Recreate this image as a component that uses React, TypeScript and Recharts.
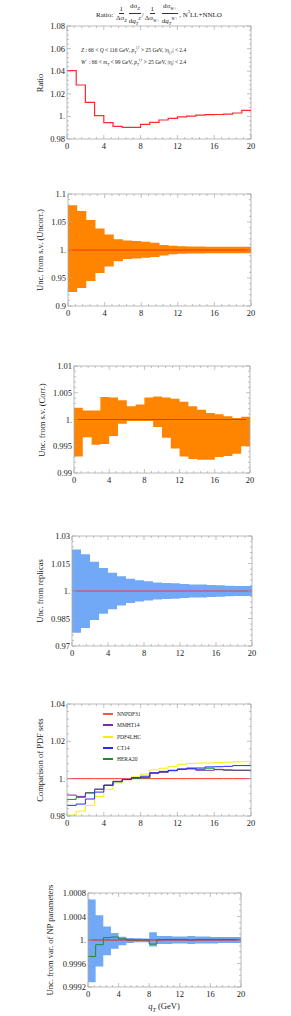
import React from "react";
import { ComposedChart, Line, Area, XAxis, YAxis, ReferenceLine } from "recharts";

// bin edges in q_T (GeV)
const qT = [0, 1, 2, 3, 4, 5, 6, 7, 8, 9, 10, 11, 12, 13, 14, 15, 16, 17, 18, 19, 20];
const xMajors = [0, 4, 8, 12, 16, 20];
const xLabels = ["0", "4", "8", "12", "16", "20"];

// panel 1: central ratio
const ratio = [1.0405, 1.0278, 1.0125, 1.0006, 0.9945, 0.9912, 0.9903, 0.9903, 0.993, 0.9947, 0.9968, 0.9983, 0.9995, 1.0003, 1.0012, 1.0015, 1.0017, 1.002, 1.003, 1.0054];

// panel 2: scale variations, uncorrelated
const uncorrUp = [1.08, 1.0696, 1.0534, 1.0385, 1.0278, 1.0194, 1.017, 1.016, 1.0146, 1.013, 1.009, 1.0075, 1.0066, 1.0064, 1.0062, 1.006, 1.006, 1.006, 1.006, 1.006];
const uncorrDn = [0.925, 0.932, 0.9445, 0.959, 0.9705, 0.98, 0.984, 0.985, 0.986, 0.9875, 0.99, 0.9925, 0.9935, 0.9937, 0.9938, 0.994, 0.994, 0.994, 0.994, 0.994];

// panel 3: scale variations, correlated
const corrUp = [1.0022, 1.0017, 1.0017, 1.0042, 1.0041, 1.0036, 1.0025, 1.0028, 1.0041, 1.0043, 1.0041, 1.0039, 1.0033, 1.0025, 1.0018, 1.0012, 1.001, 1.0006, 1.0003, 1.0005];
const corrDn = [0.9931, 0.9967, 0.9953, 0.9954, 0.9969, 0.9992, 0.9997, 0.9997, 0.9997, 0.9986, 0.9966, 0.9946, 0.9931, 0.9926, 0.9925, 0.9925, 0.993, 0.9932, 0.9936, 0.995];

// panel 4: PDF replicas
const replicaUp = [1.0227, 1.02, 1.016, 1.0125, 1.01, 1.008, 1.0067, 1.0058, 1.0053, 1.0047, 1.0044, 1.0042, 1.0038, 1.0036, 1.0035, 1.0033, 1.0031, 1.0029, 1.0027, 1.0027];
const replicaDn = [0.9772, 0.9798, 0.9842, 0.9876, 0.9901, 0.9921, 0.9934, 0.9943, 0.9948, 0.9953, 0.9956, 0.9958, 0.9962, 0.9964, 0.9965, 0.9967, 0.9969, 0.9971, 0.9973, 0.9973];

// panel 5: PDF sets
const nnpdf31 = [1, 1, 1, 1, 1, 1, 1, 1, 1, 1, 1, 1, 1, 1, 1, 1, 1, 1, 1, 1];
const mmht14 = [0.9912, 0.9905, 0.9923, 0.9944, 0.9966, 0.9986, 0.9995, 1.0005, 1.0007, 1.0029, 1.0034, 1.0043, 1.005, 1.0052, 1.0045, 1.0045, 1.005, 1.0047, 1.0045, 1.0045];
const pdf4lhc = [0.9805, 0.9826, 0.9857, 0.9905, 0.9943, 0.9977, 0.9996, 1.001, 1.0025, 1.0047, 1.0056, 1.0066, 1.0077, 1.0082, 1.0084, 1.0084, 1.0086, 1.0088, 1.009, 1.0091];
const ct14 = [0.9857, 0.9864, 0.9891, 0.9928, 0.9964, 0.9984, 0.9996, 1.0005, 1.0013, 1.0032, 1.0039, 1.0045, 1.0052, 1.0056, 1.0057, 1.0063, 1.0064, 1.0066, 1.007, 1.007];
const hera20 = [0.9889, 0.99, 0.9925, 0.9943, 0.9964, 0.9984, 0.9995, 1.0002, 1.0004, 1.003, 1.0036, 1.0043, 1.005, 1.0056, 1.005, 1.0056, 1.0048, 1.0045, 1.0045, 1.0045];

// panel 6: NP parameters
const npUp = [1.00069, 1.00042, 1.00023, 1.00012, 1.000057, 1.000034, 1.00003, 1.000025, 1.00013, 1.00007, 1.00007, 1.00006, 1.00006, 1.00007, 1.00006, 1.00006, 1.00005, 1.00005, 1.00005, 1.00005];
const npDn = [0.99928, 0.99955, 0.99974, 0.99985, 0.99991, 0.99995, 0.99996, 0.99996, 0.99989, 0.99993, 0.99993, 0.99994, 0.99994, 0.99993, 0.99994, 0.99994, 0.99994, 0.99995, 0.99995, 0.99995];
const npHera = [0.99972, 0.99992, 1.00004, 1.00005, 1.00002, 1.0, 1.0, 1.0, 0.99993, 1.000006, 1.00001, 1.00001, 1.00001, 1.0, 1.00001, 1.00001, 1.00001, 1.00001, 1.00001, 1.00001];

const FONT = "'Liberation Serif', 'DejaVu Serif', serif";
const FRAME = "#a8a8a8";

// one row per bin edge; the last edge repeats the last bin so stepAfter closes the bin
const stepRows = (series: Record<string, number[]>, bands: Record<string, [number[], number[]]> = {}) =>
  qT.map((x, i) => {
    const j = Math.min(i, 19);
    const r: any = { x };
    Object.keys(series).forEach((k) => (r[k] = series[k][j]));
    Object.keys(bands).forEach((k) => (r[k] = [bands[k][0][j], bands[k][1][j]]));
    return r;
  });

const withMinors = (majors: number[], n: number) => {
  const out: number[] = [];
  for (let i = 0; i < majors.length - 1; i++) {
    for (let k = 0; k < n; k++) out.push(majors[i] + ((majors[i + 1] - majors[i]) * k) / n);
  }
  out.push(majors[majors.length - 1]);
  return out;
};

type Side = "left" | "right" | "top" | "bottom";

const tickFor = (side: Side, majors: number[], labels?: string[]) => (p: any) => {
  const { x, y } = p;
  const v = p.payload.value;
  const tol = Math.abs(majors[1] - majors[0]) * 1e-3;
  const idx = majors.findIndex((m) => Math.abs(m - v) < tol);
  const len = idx >= 0 ? 4 : 2;
  let x2 = x, y2 = y;
  if (side === "left") x2 = x + len;
  if (side === "right") x2 = x - len;
  if (side === "top") y2 = y + len;
  if (side === "bottom") y2 = y - len;
  return (
    <g>
      <line x1={x} y1={y} x2={x2} y2={y2} stroke={FRAME} strokeWidth={0.7} />
      {labels && idx >= 0 && side === "left" && (
        <text x={x - 2} y={y} dy={3} textAnchor="end" fontSize={8.5} fontFamily={FONT} fill="#222">
          {labels[idx]}
        </text>
      )}
      {labels && idx >= 0 && side === "bottom" && (
        <text x={x} y={y + 10} textAnchor="middle" fontSize={8.5} fontFamily={FONT} fill="#222">
          {labels[idx]}
        </text>
      )}
    </g>
  );
};

type PanelProps = {
  plotLeft: number;
  plotRight: number;
  plotTop: number;
  plotBottom: number;
  domain: [number, number];
  yMajors: number[];
  yLabels: string[];
  ySub: number;
  ylabel: string;
  labelX: number;
  data: any[];
  children: React.ReactNode;
};

const LW = 30; // left axis width
const RW = 10; // right axis width
const TH = 10; // top axis height
const BH = 20; // bottom axis height

const Panel = ({ plotLeft, plotRight, plotTop, plotBottom, domain, yMajors, yLabels, ySub, ylabel, labelX, data, children }: PanelProps) => {
  const pad = 40;
  const h = plotBottom - plotTop + 2 * pad;
  const yTicks = withMinors(yMajors, ySub);
  const xTicks = withMinors(xMajors, 5);
  return (
    <>
      <div style={{ position: "absolute", left: 0, top: plotTop - pad }}>
        <ComposedChart
          width={291}
          height={h}
          data={data}
          margin={{ top: pad - TH, bottom: pad - BH, left: plotLeft - LW, right: 291 - plotRight - RW }}
        >
          <XAxis xAxisId="b" dataKey="x" type="number" domain={[0, 20]} ticks={xTicks} interval={0} height={BH} tickSize={0} tickMargin={0} tickLine={false} axisLine={{ stroke: FRAME, strokeWidth: 0.8 }} tick={tickFor("bottom", xMajors, xLabels)} allowDataOverflow />
          <XAxis xAxisId="t" orientation="top" dataKey="x" type="number" domain={[0, 20]} ticks={xTicks} interval={0} height={TH} tickSize={0} tickMargin={0} tickLine={false} axisLine={{ stroke: FRAME, strokeWidth: 0.8 }} tick={tickFor("top", xMajors)} allowDataOverflow />
          <YAxis yAxisId="l" type="number" domain={domain} ticks={yTicks} interval={0} width={LW} tickSize={0} tickMargin={0} tickLine={false} axisLine={{ stroke: FRAME, strokeWidth: 0.8 }} tick={tickFor("left", yMajors, yLabels)} allowDataOverflow />
          <YAxis yAxisId="r" orientation="right" type="number" domain={domain} ticks={yTicks} interval={0} width={RW} tickSize={0} tickMargin={0} tickLine={false} axisLine={{ stroke: FRAME, strokeWidth: 0.8 }} tick={tickFor("right", yMajors)} allowDataOverflow />
          {children}
        </ComposedChart>
      </div>
      <div
        style={{
          position: "absolute",
          left: labelX,
          top: (plotTop + plotBottom) / 2,
          transform: "translate(-50%, -50%) rotate(-90deg)",
          whiteSpace: "nowrap",
          fontFamily: FONT,
          fontSize: 8.5,
          color: "#222",
        }}
      >
        {ylabel}
      </div>
    </>
  );
};

const SS = { fontSize: 4.5 };

const Frac = ({ n, d }: { n: React.ReactNode; d: React.ReactNode }) => (
  <span style={{ display: "inline-flex", flexDirection: "column", alignItems: "center", verticalAlign: "middle", margin: "0 1px" }}>
    <span style={{ borderBottom: "0.5px solid #333", padding: "0 1px", lineHeight: "8px" }}>{n}</span>
    <span style={{ lineHeight: "8px" }}>{d}</span>
  </span>
);

const legendItems = [
  { name: "NNPDF31", color: "#ff5050" },
  { name: "MMHT14", color: "#7b2da0" },
  { name: "PDF4LHC", color: "#f4f000" },
  { name: "CT14", color: "#2a2aff" },
  { name: "HERA20", color: "#1f8a2a" },
];
const legendRows = [714, 725, 737, 748, 759];

const ax = { xAxisId: "b", yAxisId: "l" };

export default function App() {
  const d1 = stepRows({ ratio });
  const d2 = stepRows({}, { band: [uncorrDn, uncorrUp] });
  const d3 = stepRows({}, { band: [corrDn, corrUp] });
  const d4 = stepRows({}, { band: [replicaDn, replicaUp] });
  const d5 = stepRows({ nnpdf31, mmht14, pdf4lhc, ct14, hera20 });
  const d6 = stepRows({ npHera }, { band: [npDn, npUp] });

  return (
    <div style={{ position: "absolute", left: 0, top: 0, width: 291, height: 1016, background: "#fff", fontFamily: FONT, color: "#222" }}>
      <div style={{ position: "absolute", left: 59, top: 2, width: 200, textAlign: "center", fontSize: 7, whiteSpace: "nowrap" }}>
        Ratio:{" "}
        <Frac n="1" d={<span>Δσ<sub style={SS}><i>Z</i></sub></span>} />
        <Frac n={<span>dσ<sub style={SS}><i>Z</i></sub></span>} d={<span>d<i>q</i><sub style={SS}><i>T</i></sub><sup style={SS}><i>Z</i></sup></span>} />
        /
        <Frac n="1" d={<span>Δσ<sub style={SS}><i>W+</i></sub></span>} />
        <Frac n={<span>dσ<sub style={SS}><i>W+</i></sub></span>} d={<span>d<i>q</i><sub style={SS}><i>T</i></sub><sup style={SS}><i>W+</i></sup></span>} />
        , N<sup style={SS}>3</sup>LL+NNLO
      </div>

      <Panel plotLeft={67} plotRight={251} plotTop={26} plotBottom={139} domain={[0.98, 1.08]} yMajors={[0.98, 1, 1.02, 1.04, 1.06, 1.08]} yLabels={["0.98", "1.", "1.02", "1.04", "1.06", "1.08"]} ySub={5} ylabel="Ratio" labelX={40} data={d1}>
        <Line {...ax} type="stepAfter" dataKey="ratio" stroke="#ff2a2a" strokeWidth={1.2} dot={false} isAnimationActive={false} />
      </Panel>
      <div style={{ position: "absolute", left: 81, top: 44, fontSize: 5.5, whiteSpace: "nowrap", lineHeight: "8px" }}>
        <i>Z</i> : 66 &lt; <i>Q</i> &lt; 116 GeV, <i>p</i><sub style={{ fontSize: 3.5 }}><i>T</i></sub><sup style={{ fontSize: 3.5 }}><i>l,l′</i></sup> &gt; 25 GeV, |η<sub style={{ fontSize: 3.5 }}><i>l,l′</i></sub>| &lt; 2.4
      </div>
      <div style={{ position: "absolute", left: 81, top: 56, fontSize: 5.5, whiteSpace: "nowrap", lineHeight: "8px" }}>
        <i>W</i><sup style={{ fontSize: 3.5 }}>+</sup> : 66 &lt; <i>m<sub style={{ fontSize: 3.5 }}>T</sub></i> &lt; 99 GeV, <i>p</i><sub style={{ fontSize: 3.5 }}><i>T</i></sub><sup style={{ fontSize: 3.5 }}><i>l,ν</i></sup> &gt; 25 GeV, |η<sub style={{ fontSize: 3.5 }}><i>l</i></sub>| &lt; 2.4
      </div>

      <Panel plotLeft={68} plotRight={251} plotTop={194} plotBottom={306} domain={[0.9, 1.1]} yMajors={[0.9, 0.95, 1, 1.05, 1.1]} yLabels={["0.9", "0.95", "1.", "1.05", "1.1"]} ySub={5} ylabel="Unc. from s.v. (Uncorr.)" labelX={40} data={d2}>
        <Area {...ax} type="stepAfter" dataKey="band" stroke="none" fill="#ff8400" fillOpacity={1} isAnimationActive={false} />
        <ReferenceLine {...ax} y={1} stroke="#ff3000" strokeWidth={1.2} />
      </Panel>

      <Panel plotLeft={74} plotRight={250} plotTop={366} plotBottom={473} domain={[0.99, 1.01]} yMajors={[0.99, 0.995, 1, 1.005, 1.01]} yLabels={["0.99", "0.995", "1.", "1.005", "1.01"]} ySub={5} ylabel="Unc. from s.v. (Corr.)" labelX={42} data={d3}>
        <Area {...ax} type="stepAfter" dataKey="band" stroke="none" fill="#ff8400" fillOpacity={1} isAnimationActive={false} />
        <ReferenceLine {...ax} y={1} stroke="#ff3000" strokeWidth={1.2} />
      </Panel>

      <Panel plotLeft={72} plotRight={252} plotTop={536} plotBottom={646} domain={[0.97, 1.03]} yMajors={[0.97, 0.985, 1, 1.015, 1.03]} yLabels={["0.97", "0.985", "1.", "1.015", "1.03"]} ySub={5} ylabel="Unc. from replicas" labelX={40} data={d4}>
        <Area {...ax} type="stepAfter" dataKey="band" stroke="none" fill="#72a9f6" fillOpacity={1} isAnimationActive={false} />
        <ReferenceLine {...ax} y={1} stroke="#d8404a" strokeWidth={1.2} />
      </Panel>

      <Panel plotLeft={67} plotRight={251} plotTop={704} plotBottom={816} domain={[0.98, 1.04]} yMajors={[0.98, 1, 1.02, 1.04]} yLabels={["0.98", "1.", "1.02", "1.04"]} ySub={5} ylabel="Comparison of PDF sets" labelX={40} data={d5}>
        <Line {...ax} type="stepAfter" dataKey="nnpdf31" stroke="#ff3030" strokeWidth={1} dot={false} isAnimationActive={false} />
        <Line {...ax} type="stepAfter" dataKey="pdf4lhc" stroke="#f4f000" strokeWidth={1} dot={false} isAnimationActive={false} />
        <Line {...ax} type="stepAfter" dataKey="hera20" stroke="#1f8a2a" strokeWidth={1} dot={false} isAnimationActive={false} />
        <Line {...ax} type="stepAfter" dataKey="mmht14" stroke="#7b2da0" strokeWidth={1} dot={false} isAnimationActive={false} />
        <Line {...ax} type="stepAfter" dataKey="ct14" stroke="#2a2aff" strokeWidth={1} dot={false} isAnimationActive={false} />
      </Panel>
      {legendItems.map((it, i) => (
        <div key={it.name} style={{ position: "absolute", left: 103, top: legendRows[i] - 4, height: 8, display: "flex", alignItems: "center", fontSize: 5.5, whiteSpace: "nowrap" }}>
          <span style={{ display: "inline-block", width: 10, height: 1.2, background: it.color, marginRight: 4 }} />
          {it.name}
        </div>
      ))}

      <Panel plotLeft={88} plotRight={241} plotTop={893} plotBottom={987} domain={[0.9992, 1.0008]} yMajors={[0.9992, 0.9996, 1, 1.0004, 1.0008]} yLabels={["0.9992", "0.9996", "1.", "1.0004", "1.0008"]} ySub={4} ylabel="Unc. from var. of NP parameters" labelX={50} data={d6}>
        <Area {...ax} type="stepAfter" dataKey="band" stroke="none" fill="#72a9f6" fillOpacity={1} isAnimationActive={false} />
        <Line {...ax} type="stepAfter" dataKey="npHera" stroke="#1f8a2a" strokeWidth={1} dot={false} isAnimationActive={false} />
        <ReferenceLine {...ax} y={1} stroke="#e02020" strokeWidth={1} />
      </Panel>
      <div style={{ position: "absolute", left: 164, top: 1007, transform: "translate(-50%, -50%)", fontSize: 8.5, whiteSpace: "nowrap" }}>
        <i>q</i><sub style={{ fontSize: 6 }}><i>T</i></sub> (GeV)
      </div>
    </div>
  );
}
